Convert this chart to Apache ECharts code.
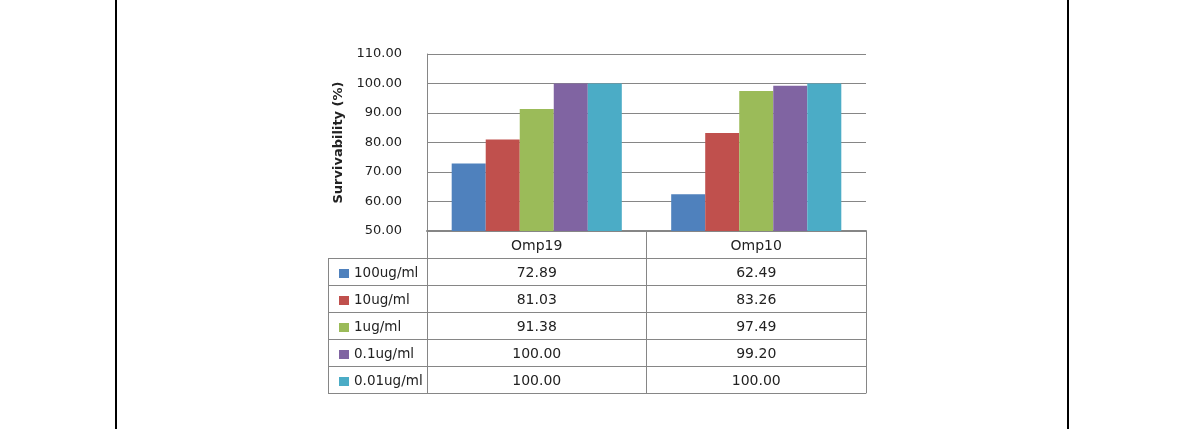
<!DOCTYPE html>
<html>
<head>
<meta charset="utf-8">
<script src="https://cdn.jsdelivr.net/npm/echarts@6/dist/echarts.min.js"></script>
<style>html,body{margin:0;padding:0;background:#fff}#c{width:1190px;height:429px}</style>
</head>
<body>
<div id="c"></div>
<script>
const categories = ['Omp19', 'Omp10'];
const seriesNames = ['100ug/ml', '10ug/ml', '1ug/ml', '0.1ug/ml', '0.01ug/ml'];
const s100 = [72.89, 62.49];
const s10 = [81.03, 83.26];
const s1 = [91.38, 97.49];
const s01 = [100.00, 99.20];
const s001 = [100.00, 100.00];
const yTicks = [50, 60, 70, 80, 90, 100, 110];
const seriesValues = [s100, s10, s1, s01, s001];
const colors = ['#4F81BD', '#C0504D', '#9BBB59', '#8064A2', '#4BACC6'];

const FONT = 'DejaVu Sans';
const TXT = '#222';
const LINE = '#868686';
const gridLeft = 427, gridRight = 866, gridTop = 54, gridBottom = 231, rowH = 27, tableLeft = 328;

const chart = echarts.init(document.getElementById('c'), null, {renderer: 'canvas'});

const xAxes = [{
  type: 'category', data: categories, gridIndex: 0, position: 'bottom', offset: 0,
  axisLine: {show: true, lineStyle: {color: LINE, width: 2}},
  axisTick: {show: true, interval: 0, length: rowH, lineStyle: {color: LINE}},
  axisLabel: {interval: 0, verticalAlign: 'middle', margin: rowH / 2 + 1.5, fontFamily: FONT, fontSize: 14, color: TXT}
}];
seriesValues.forEach((vals, i) => {
  xAxes.push({
    type: 'category', data: categories, gridIndex: 0, position: 'bottom', offset: rowH * (i + 1),
    axisLine: {show: true, lineStyle: {color: LINE, width: 1}},
    axisTick: {show: true, interval: 0, length: rowH, lineStyle: {color: LINE}},
    axisLabel: {interval: 0, verticalAlign: 'middle', margin: rowH / 2 + 1.5, fontFamily: FONT, fontSize: 14, color: TXT,
      formatter: (v, idx) => vals[idx].toFixed(2)}
  });
});
xAxes.push({
  type: 'category', data: categories, gridIndex: 0, position: 'bottom', offset: rowH * 6,
  axisLine: {show: true, lineStyle: {color: LINE, width: 1}},
  axisTick: {show: false}, axisLabel: {show: false}
});

const graphics = [
  {type: 'line', shape: {x1: 116, y1: 0, x2: 116, y2: 429}, style: {stroke: '#000', lineWidth: 2}, silent: true},
  {type: 'line', shape: {x1: 1068, y1: 0, x2: 1068, y2: 429}, style: {stroke: '#000', lineWidth: 2}, silent: true},
  {type: 'line', shape: {x1: tableLeft + 0.5, y1: gridBottom + rowH, x2: tableLeft + 0.5, y2: gridBottom + rowH * 6}, style: {stroke: LINE, lineWidth: 1}, silent: true}
];
for (let r = 1; r <= 6; r++) {
  const y = gridBottom + rowH * r + 0.5;
  graphics.push({type: 'line', shape: {x1: tableLeft, y1: y, x2: gridLeft, y2: y}, style: {stroke: LINE, lineWidth: 1}, silent: true});
}

chart.setOption({
  animation: false,
  color: colors,
  textStyle: {fontFamily: FONT},
  grid: {left: gridLeft, right: 1190 - gridRight, top: gridTop, bottom: 429 - gridBottom, containLabel: false},
  legend: {
    orient: 'vertical', left: 334, top: gridBottom + rowH + rowH / 2 - 10,
    itemWidth: 10, itemHeight: 9, itemGap: 13, icon: 'rect', selectedMode: false,
    textStyle: {fontFamily: FONT, fontSize: 13.5, color: TXT, lineHeight: 14},
    data: seriesNames
  },
  xAxis: xAxes,
  yAxis: {
    type: 'value', min: yTicks[0], max: yTicks[yTicks.length - 1], interval: 10,
    name: 'Survivability (%)', nameLocation: 'middle', nameGap: 82,
    nameTextStyle: {fontFamily: FONT, fontSize: 13, fontWeight: 'bold', color: TXT},
    axisLine: {show: true, lineStyle: {color: LINE}},
    axisTick: {show: false},
    splitLine: {show: true, lineStyle: {color: LINE, width: 1}},
    axisLabel: {margin: 25, fontFamily: FONT, fontSize: 13, color: TXT, formatter: v => v.toFixed(2)}
  },
  graphic: graphics,
  series: seriesValues.map((vals, i) => ({
    type: 'bar', name: seriesNames[i], data: vals, xAxisIndex: 0,
    barGap: '0%', barCategoryGap: '22.5%',
    itemStyle: {color: colors[i]}
  }))
});
</script>
</body>
</html>
